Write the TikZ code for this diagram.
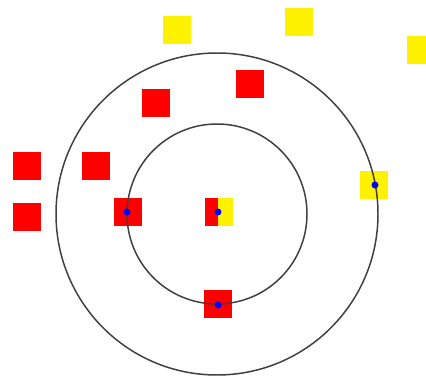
\documentclass[tikz,border=0pt]{standalone}
\begin{document}
\begin{tikzpicture}[x=0.02cm,y=-0.02cm,
  redsq/.style={fill=red,minimum size=0.56cm,inner sep=0pt},
  yelsq/.style={fill=yellow,minimum size=0.56cm,inner sep=0pt},
  ring/.style={draw=black!75,line width=0.85pt}]

% Parametry
\def\rin{90}
\def\rout{161}
\def\rad{0.07cm}

\useasboundingbox (0,0) rectangle (426,378);

% ---------- Kwadraty zolte ----------
\node[yelsq] (y1) at (177,30) {};
\node[yelsq] (y2) at (299,22) {};
\node[yelsq] (y3) at (421,50) {};
\node[yelsq] (y4) at (374,185) {};

% ---------- Kwadraty czerwone ----------
\node[redsq] (r1) at (27,166) {};
\node[redsq] (r2) at (27,217) {};
\node[redsq] (r3) at (96,166) {};
\node[redsq] (r4) at (156,103) {};
\node[redsq] (r5) at (250,84) {};
\node[redsq] (r6) at (128,212) {};
\node[redsq] (r7) at (218,304) {};

% ---------- Srodek: pol na pol ----------
\node[fill=red,minimum width=0.26cm,minimum height=0.58cm,inner sep=0pt,anchor=east] (c1) at (218,212) {};
\node[fill=yellow,minimum width=0.3cm,minimum height=0.58cm,inner sep=0pt,anchor=west] (c2) at (218,212) {};

% ---------- Okregi ----------
\coordinate (o) at (217,214);
\draw[ring] (o) circle[radius=\rin];
\draw[ring] (o) circle[radius=\rout];

% ---------- Punkty ----------
\fill[blue] (c1.east) circle (\rad);
\fill[blue] (127,212) circle (\rad);
\fill[blue] (218,305) circle (\rad);
\fill[blue] (375,185) circle (\rad);

\end{tikzpicture}
\end{document}
